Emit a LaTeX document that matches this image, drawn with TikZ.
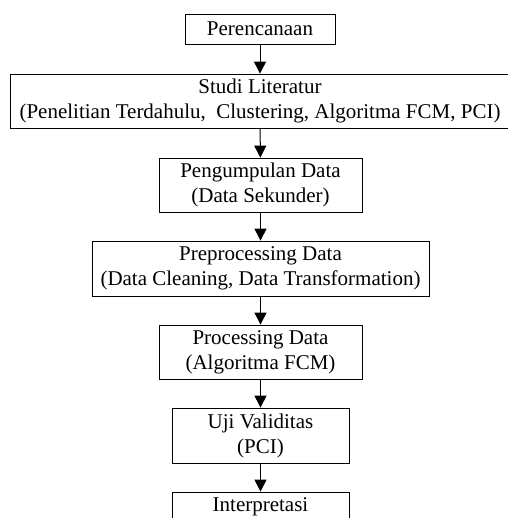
\documentclass[tikz,border=0pt]{standalone}
\usepackage{fontspec}
\setmainfont{Liberation Serif}
\usepackage{tikz}
\usetikzlibrary{positioning, arrows.meta}

\begin{document}
\begin{tikzpicture}[
    x=1pt, y=-1pt,
    stage/.style={rectangle, draw, line width=0.8pt, minimum height=54pt, align=center, inner sep=0pt, font=\fontsize{21}{25}\selectfont},
    arrow/.style={-{Triangle[length=12pt, width=12pt]}, line width=1pt}
]
\useasboundingbox (0,0) rectangle (507,518);

\node[stage, minimum width=150pt, minimum height=30pt] (plan) at (260, 29) {Perencanaan};
\node[stage, minimum width=500pt] (lit) at (260, 101) {Studi Literatur\\(Penelitian Terdahulu,~ Clustering, Algoritma FCM, PCI)};
\node[stage, minimum width=203pt] (collect) at (260.5, 185) {Pengumpulan Data\\(Data Sekunder)};
\node[stage, minimum width=337pt, minimum height=55pt] (prep) at (260.5, 268.5) {Preprocessing Data\\(Data Cleaning, Data Transformation)};
\node[stage, minimum width=203pt] (proc) at (260.5, 352) {Processing Data\\(Algoritma FCM)};
\node[stage, minimum width=177pt, minimum height=55pt] (valid) at (260.5, 435.5) {Uji Validitas\\(PCI)};
\node[stage, minimum width=177pt, minimum height=30pt] (interp) at (260.5, 507) {Interpretasi};

\draw[arrow] (plan) -- (lit);
\draw[arrow] (lit) -- (collect);
\draw[arrow] (collect) -- (prep);
\draw[arrow] (prep) -- (proc);
\draw[arrow] (proc) -- (valid);
\draw[arrow] (valid) -- (interp);

\end{tikzpicture}
\end{document}
